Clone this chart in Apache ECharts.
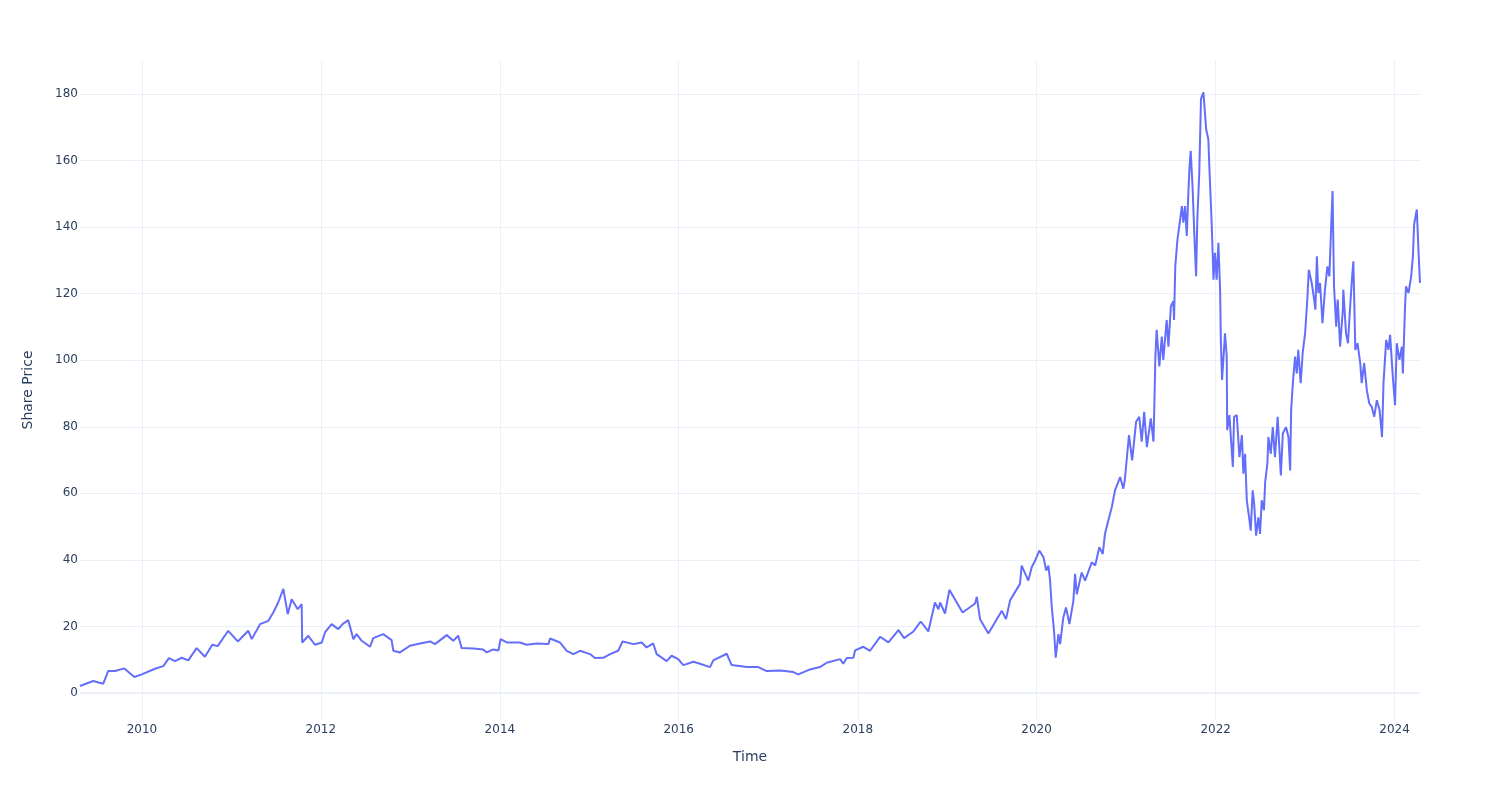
<!DOCTYPE html>
<html>
<head>
<meta charset="utf-8">
<script src="https://cdn.jsdelivr.net/npm/echarts@6/dist/echarts.min.js"></script>
<style>
html,body{margin:0;padding:0;background:#fff;}
#chart{width:1500px;height:800px;}
</style>
</head>
<body>
<div id="chart"></div>
<script>
// Trading dates
const dates = [
'2009-04-23','2009-06-16','2009-07-27','2009-08-16','2009-09-13','2009-10-21','2009-12-01','2009-12-31',
'2010-02-23','2010-03-29','2010-04-21','2010-05-16','2010-06-12','2010-07-09','2010-08-12','2010-09-15','2010-10-15','2010-11-06','2010-12-19',
'2011-01-27','2011-03-11','2011-03-25','2011-04-28','2011-06-01','2011-06-21','2011-07-11','2011-08-01','2011-08-19','2011-09-04','2011-09-29','2011-10-15','2011-10-17','2011-11-11','2011-12-08',
'2012-01-05','2012-01-18','2012-02-14','2012-03-12','2012-03-30','2012-04-22','2012-05-13','2012-05-26','2012-06-16','2012-07-20','2012-08-02','2012-09-12','2012-10-16','2012-10-23','2012-11-19','2012-12-30',
'2013-02-09','2013-03-22','2013-04-11','2013-05-29','2013-06-25','2013-07-15','2013-07-29','2013-09-15','2013-10-25','2013-11-08','2013-12-05','2013-12-26',
'2014-01-04','2014-01-29','2014-03-24','2014-04-20','2014-05-31','2014-07-18','2014-07-25','2014-09-03','2014-10-01','2014-10-28','2014-11-24',
'2015-01-04','2015-01-24','2015-02-27','2015-03-27','2015-04-29','2015-05-17','2015-06-30','2015-08-03','2015-08-23','2015-09-19','2015-10-03','2015-11-13','2015-12-03','2015-12-30',
'2016-01-20','2016-03-01','2016-03-28','2016-05-08','2016-05-21','2016-07-15','2016-08-04','2016-10-05','2016-11-21','2016-12-25',
'2017-02-18','2017-04-13','2017-05-03','2017-06-20','2017-07-31','2017-08-27','2017-10-21','2017-11-03','2017-11-17','2017-12-14','2017-12-21',
'2018-01-24','2018-02-20','2018-04-02','2018-05-06','2018-06-16','2018-07-09','2018-08-16','2018-09-15','2018-10-16','2018-11-12','2018-11-26','2018-12-03','2018-12-23',
'2019-01-10','2019-02-09','2019-03-05','2019-04-25','2019-05-02','2019-05-15','2019-06-18','2019-08-12','2019-08-29','2019-09-15','2019-10-25','2019-11-01','2019-11-28','2019-12-12','2019-12-26',
'2020-01-12','2020-01-29','2020-02-09','2020-02-18','2020-02-25','2020-03-03','2020-03-12','2020-03-19','2020-03-30','2020-04-06','2020-04-19','2020-04-30','2020-05-14','2020-05-30','2020-06-06','2020-06-13','2020-07-03','2020-07-17','2020-08-13','2020-08-27','2020-09-13','2020-09-27','2020-10-06','2020-10-20','2020-11-03','2020-11-16','2020-12-07','2020-12-20','2020-12-26',
'2021-01-12','2021-01-25','2021-02-10','2021-02-23','2021-03-05','2021-03-15','2021-03-26','2021-04-11','2021-04-22','2021-04-25','2021-04-30','2021-05-05','2021-05-16','2021-05-26','2021-06-01','2021-06-15','2021-06-22','2021-07-02','2021-07-12','2021-07-15','2021-07-20','2021-07-29','2021-08-09','2021-08-16','2021-08-22','2021-08-29','2021-09-05','2021-09-12','2021-09-16','2021-09-21','2021-09-29','2021-10-05','2021-10-13','2021-10-18','2021-10-26','2021-11-02','2021-11-12','2021-11-23','2021-12-02','2021-12-06','2021-12-16','2021-12-23','2021-12-29',
'2022-01-05','2022-01-12','2022-01-19','2022-01-22','2022-01-27','2022-02-08','2022-02-15','2022-02-17','2022-02-26','2022-03-12','2022-03-17','2022-03-28','2022-04-08','2022-04-18','2022-04-24','2022-05-01','2022-05-08','2022-05-18','2022-05-24','2022-06-01','2022-06-07','2022-06-15','2022-06-24','2022-07-01','2022-07-08','2022-07-17','2022-07-22','2022-07-31','2022-08-04','2022-08-14','2022-08-22','2022-08-31','2022-09-11','2022-09-24','2022-10-02','2022-10-15','2022-10-25','2022-11-01','2022-11-05','2022-11-12','2022-11-21','2022-11-28','2022-12-04','2022-12-14','2022-12-22',
'2023-01-01','2023-01-10','2023-01-16','2023-01-28','2023-02-07','2023-02-12','2023-02-18','2023-02-24','2023-03-03','2023-03-13','2023-03-23','2023-04-02','2023-04-10','2023-04-16','2023-04-23','2023-04-29','2023-05-08','2023-05-14','2023-05-24','2023-06-04','2023-06-06','2023-06-17','2023-06-25','2023-07-04','2023-07-12','2023-07-17','2023-07-25','2023-08-03','2023-08-14','2023-08-20','2023-08-30','2023-09-10','2023-09-20','2023-09-30','2023-10-10','2023-10-21','2023-11-01','2023-11-11','2023-11-17','2023-11-28','2023-12-07','2023-12-14','2023-12-25',
'2024-01-03','2024-01-10','2024-01-21','2024-01-31','2024-02-04','2024-02-13','2024-02-17','2024-02-27','2024-03-09','2024-03-16','2024-03-21','2024-04-01','2024-04-07','2024-04-14'
];

// Share prices
const prices = [
2.1,3.6,2.8,6.6,6.6,7.4,4.8,5.6,
7.3,8.1,10.5,9.6,10.6,9.8,13.5,10.9,14.5,14.1,18.7,
15.5,18.7,16.2,20.7,21.7,24.2,27.2,31.3,23.7,28.2,25.2,26.7,15.2,17.2,14.5,
15.2,18.2,20.7,19.2,20.7,21.9,16.2,17.7,15.7,13.9,16.5,17.7,15.9,12.7,12.2,14.2,
14.9,15.5,14.7,17.4,15.7,17.2,13.5,13.4,13.1,12.2,13.1,12.8,
16.2,15.2,15.2,14.5,14.9,14.7,16.4,15.2,12.7,11.7,12.7,
11.7,10.5,10.6,11.7,12.7,15.5,14.7,15.2,13.7,14.9,11.7,9.6,11.2,10.2,
8.4,9.4,8.8,7.8,9.8,11.8,8.4,7.8,7.8,6.6,
6.8,6.3,5.6,7.1,7.8,9.1,10.2,8.8,10.5,10.6,12.8,
13.9,12.7,16.9,15.2,18.9,16.5,18.5,21.5,18.5,27.2,25.2,27.2,23.9,
31.0,27.2,24.2,26.9,28.9,22.2,17.9,24.7,22.2,27.9,32.8,38.3,33.8,37.8,39.8,
42.8,40.8,36.8,38.3,33.8,25.7,18.7,10.6,17.7,14.7,22.7,25.7,20.7,27.7,35.8,29.7,36.2,33.8,39.3,38.3,43.8,41.8,47.8,51.9,55.9,60.9,64.9,61.4,64.0,
77.5,69.9,81.5,83.0,75.5,84.5,73.9,82.5,75.5,84.5,101.6,109.1,98.1,107.1,100.1,112.1,104.1,116.2,117.7,112.1,128.2,136.3,142.3,146.3,141.3,146.3,137.3,151.3,157.8,162.9,151.3,139.3,125.2,142.3,156.4,178.5,180.5,169.4,166.4,158.4,140.3,124.2,132.3,
124.2,135.3,121.2,106.1,94.1,108.1,101.1,79.0,83.5,67.9,83.0,83.5,70.9,77.5,65.9,71.9,57.9,52.4,48.8,60.9,56.9,47.3,52.8,47.8,57.9,54.9,63.4,68.9,76.9,71.9,79.9,70.9,83.0,65.4,78.0,79.9,76.9,66.9,85.0,93.1,101.1,96.0,103.1,93.1,102.1,
108.1,118.2,127.2,123.2,118.2,115.2,131.2,120.2,123.2,111.1,121.2,128.2,125.2,137.3,150.8,122.2,110.1,118.2,104.1,115.2,121.2,108.1,105.1,116.2,125.2,129.7,103.1,105.1,99.1,93.1,99.1,91.0,87.0,86.0,83.0,88.0,85.0,76.9,93.1,106.1,103.1,107.6,95.1,
86.5,105.1,100.1,104.1,96.0,116.2,122.2,120.2,125.2,131.2,140.8,145.3,134.2,123.2
];

const xTickDates = ['2010-01-01','2012-01-01','2014-01-01','2016-01-01','2018-01-01','2020-01-01','2022-01-01','2024-01-01'];
const yTickValues = [0,20,40,60,80,100,120,140,160,180];

const parse = s => +echarts.number.parseDate(s);
const seriesData = dates.map((d, i) => [parse(d), prices[i]]);
const xTicks = xTickDates.map(parse);

const chart = echarts.init(document.getElementById('chart'), null, {renderer: 'canvas'});
const FONT = 'DejaVu Sans, Verdana, sans-serif';
const TXT = '#2a3f5f';
const GRID = '#EBF0F8';

chart.setOption({
  animation: false,
  backgroundColor: '#ffffff',
  grid: {left: 80, right: 80, top: 60, bottom: 80},
  xAxis: {
    type: 'value',
    scale: true,
    min: parse(dates[0]),
    max: parse(dates[dates.length - 1]),
    name: 'Time',
    nameLocation: 'middle',
    nameGap: 30,
    nameTextStyle: {color: TXT, fontSize: 14, fontFamily: FONT},
    axisLine: {show: false},
    axisTick: {show: false, customValues: xTicks},
    axisLabel: {
      customValues: xTicks,
      color: TXT, fontSize: 12, fontFamily: FONT, margin: 4,
      formatter: v => String(new Date(v).getFullYear())
    },
    splitLine: {show: true, lineStyle: {color: GRID, width: 1}}
  },
  yAxis: {
    type: 'value',
    min: -8.1,
    max: 190.2,
    name: 'Share Price',
    nameLocation: 'middle',
    nameRotate: 90,
    nameGap: 45,
    nameTextStyle: {color: TXT, fontSize: 14, fontFamily: FONT},
    axisLine: {show: false},
    axisTick: {show: false, customValues: yTickValues},
    axisLabel: {customValues: yTickValues, color: TXT, fontSize: 12, fontFamily: FONT, margin: 2},
    splitLine: {show: true, lineStyle: {color: GRID, width: 1}}
  },
  series: [{
    type: 'line',
    data: seriesData,
    showSymbol: false,
    symbol: 'none',
    lineStyle: {color: '#636efa', width: 2},
    itemStyle: {color: '#636efa'},
    markLine: {
      silent: true,
      symbol: 'none',
      label: {show: false},
      lineStyle: {color: GRID, width: 2, type: 'solid'},
      data: [{yAxis: 0}],
      z: 1
    }
  }]
});
</script>
</body>
</html>
